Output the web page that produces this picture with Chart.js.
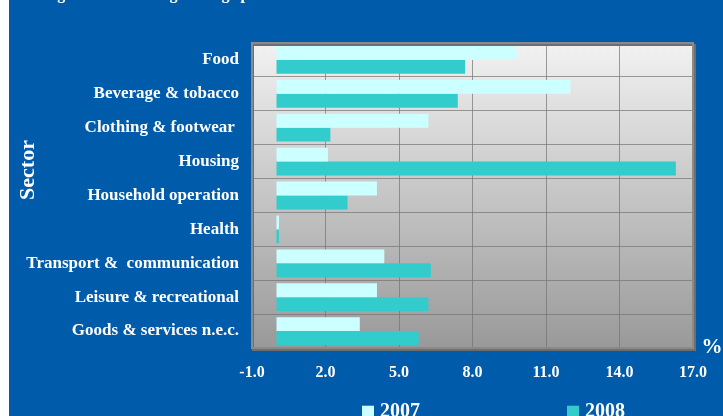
<!DOCTYPE html>
<html>
<head>
<meta charset="utf-8">
<script src="https://cdn.jsdelivr.net/npm/chart.js@4/dist/chart.umd.min.js"></script>
<style>
    html, body { margin: 0; padding: 0; background: #ffffff; overflow: hidden; width: 723px; height: 416px; }
    #wrap { position: absolute; left: 9px; top: 0; width: 714px; height: 440px; background: #005BAA; }
</style>
</head>
<body>
<div id="wrap"><canvas id="graficaSectores"></canvas></div>
<script>
const sectores = [
    'Food',
    'Beverage & tobacco',
    'Clothing & footwear ',
    'Housing',
    'Household operation',
    'Health',
    'Transport &  communication',
    'Leisure & recreational',
    'Goods & services n.e.c.'
];
const series = ['2007', '2008'];
const cambio2007 = [9.8, 12.0, 6.2, 2.1, 4.1, 0.1, 4.4, 4.1, 3.4];
const cambio2008 = [7.7, 7.4, 2.2, 16.3, 2.9, 0.1, 6.3, 6.2, 5.8];
const ticksX = [-1, 2, 5, 8, 11, 14, 17];
const colores = ['#CCFFFF', '#33CCCC'];

const fuente = '"Liberation Serif", "Times New Roman", serif';

// fondo degradado del area, marco, textos sueltos y leyenda
const decoracion = {
    id: 'decoracion',
    beforeDraw(chart) {
        const { ctx, chartArea: a } = chart;
        const grad = ctx.createLinearGradient(0, a.top, 0, a.bottom);
        grad.addColorStop(0, '#F2F2F2');
        grad.addColorStop(1, '#999999');
        ctx.save();
        ctx.fillStyle = grad;
        ctx.fillRect(a.left, a.top, a.right - a.left, a.bottom - a.top);
        ctx.restore();
    },
    afterDraw(chart) {
        const { ctx, chartArea: a } = chart;
        ctx.save();
        // marco
        ctx.strokeStyle = '#6E6E6E';
        ctx.lineWidth = 2;
        ctx.strokeRect(a.left + 1, a.top + 2, a.right - a.left + 1, a.bottom - a.top);
        ctx.strokeStyle = '#8A8A8A';
        ctx.strokeRect(a.left, a.top, a.right - a.left, a.bottom - a.top);

        ctx.fillStyle = '#ffffff';
        // titulo (cortado arriba)
        ctx.font = 'bold 16px ' + fuente;
        ctx.textAlign = 'left';
        ctx.textBaseline = 'alphabetic';
        ctx.fillText('Figure 3: Percentage change per Sector', 34, -1);

        // titulo eje y
        ctx.save();
        ctx.translate(19, 170);
        ctx.rotate(-Math.PI / 2);
        ctx.font = 'bold 22px ' + fuente;
        ctx.textAlign = 'center';
        ctx.textBaseline = 'middle';
        ctx.fillText('Sector', 0, 0);
        ctx.restore();

        // unidad
        ctx.font = 'bold 21px ' + fuente;
        ctx.textAlign = 'center';
        ctx.textBaseline = 'middle';
        ctx.fillText('%', a.right + 19, a.bottom);

        // leyenda
        const xs = [353, 558];
        ctx.font = 'bold 20px ' + fuente;
        ctx.textAlign = 'left';
        chart.data.datasets.forEach((ds, i) => {
            ctx.fillStyle = ds.backgroundColor;
            ctx.fillRect(xs[i], 405.7, 12, 12);
            ctx.fillStyle = '#ffffff';
            ctx.fillText(ds.label, xs[i] + 18, 411.7);
        });
        ctx.restore();
    }
};

document.addEventListener('DOMContentLoaded', function () {
    const ctx = document.getElementById('graficaSectores');
    new Chart(ctx, {
        type: 'bar',
        data: {
            labels: sectores,
            datasets: [{
                label: series[0],
                data: cambio2007,
                backgroundColor: colores[0],
                borderWidth: 0
            }, {
                label: series[1],
                data: cambio2008,
                backgroundColor: colores[1],
                borderWidth: 0
            }]
        },
        options: {
            indexAxis: 'y',
            responsive: true,
            maintainAspectRatio: false,
            animation: false,
            categoryPercentage: 0.82,
            barPercentage: 1.0,
            layout: {
                padding: { top: 43, left: 0, right: 30, bottom: 0 }
            },
            plugins: {
                legend: { display: false },
                tooltip: { enabled: false }
            },
            scales: {
                x: {
                    min: -1,
                    max: 17,
                    afterBuildTicks: function (scale) {
                        scale.ticks = ticksX.map(v => ({ value: v }));
                    },
                    afterFit: function (scale) {
                        scale.height = 92;
                    },
                    border: { display: false },
                    grid: {
                        color: 'rgba(115,115,115,0.7)',
                        lineWidth: 1,
                        drawTicks: false
                    },
                    ticks: {
                        color: '#ffffff',
                        padding: 15,
                        font: { family: fuente, size: 16, weight: 'bold' },
                        callback: function (v) { return Number(v).toFixed(1); }
                    }
                },
                y: {
                    afterFit: function (scale) {
                        scale.width = 243;
                    },
                    border: { display: false },
                    grid: {
                        color: 'rgba(115,115,115,0.7)',
                        lineWidth: 1,
                        drawTicks: false
                    },
                    ticks: {
                        color: '#ffffff',
                        padding: 13,
                        font: { family: fuente, size: 17, weight: 'bold' }
                    }
                }
            }
        },
        plugins: [decoracion]
    });
});
</script>
</body>
</html>
